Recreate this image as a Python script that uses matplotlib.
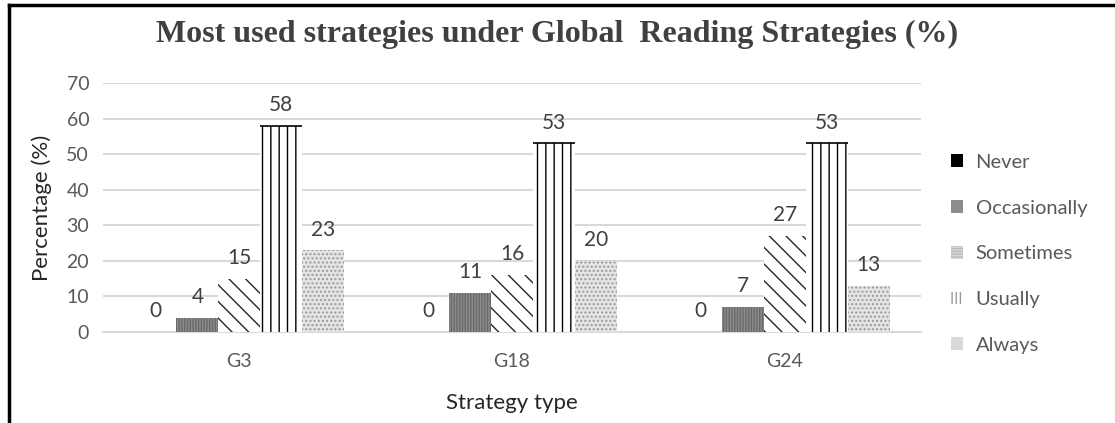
import matplotlib.pyplot as plt
import numpy as np
from matplotlib.patches import Patch
from matplotlib.lines import Line2D

# data
groups = ['G3', 'G18', 'G24']
series = ['Never', 'Occasionally', 'Sometimes', 'Usually', 'Always']
never = [0, 0, 0]
occasionally = [4, 11, 7]
sometimes = [15, 16, 27]
usually = [58, 53, 53]
always = [23, 20, 13]
values = [never, occasionally, sometimes, usually, always]

# fill styles per series (face, hatch colour, hatch)
styles = [
    ('#000000', '#000000', None),
    ('#8c8c8c', '#6a6a6a', '||||||'),
    ('#ffffff', '#262626', '\\\\'),
    ('#ffffff', '#000000', '||'),
    ('#e4e4e4', '#9a9a9a', '....'),
]

plt.rcParams['font.family'] = ['Lato', 'DejaVu Sans']
plt.rcParams['hatch.linewidth'] = 1.0
txt = '#595959'

fig = plt.figure(figsize=(11.15, 4.23), dpi=100)
ax = fig.add_axes([0.0924, 0.215, 0.7336, 0.589])

x = np.arange(len(groups))
w = 0.154
for i, (name, vals) in enumerate(zip(series, values)):
    face, hc, hatch = styles[i]
    pos = x + (i - 2) * w
    ax.bar(pos, vals, w, color=face, edgecolor=hc, hatch=hatch, linewidth=0,
           label=name, zorder=3)
    if name == 'Usually':
        ax.hlines(vals, pos - w / 2, pos + w / 2, color='black', lw=1.2, zorder=4)
    for p, v in zip(pos, vals):
        ax.text(p, v + 3, str(v), ha='center', va='bottom', fontsize=15,
                color='#404040', zorder=5)

ax.set_xlim(-0.5, 2.5)
ax.set_ylim(0, 70)
ax.set_yticks(range(0, 71, 10))
ax.set_xticks(x)
ax.set_xticklabels(groups)
ax.grid(axis='y', color='#d9d9d9', lw=1.5, zorder=0)
for s in ['top', 'right', 'left']:
    ax.spines[s].set_visible(False)
ax.spines['bottom'].set_color('#d9d9d9')
ax.spines['bottom'].set_linewidth(1.5)
ax.tick_params(length=0, labelsize=14, colors=txt, pad=10)
ax.tick_params(axis='x', pad=15)
ax.set_xlabel('Strategy type', fontsize=16, color='#262626', labelpad=17)
ax.set_ylabel('Percentage (%)', fontsize=16, color='#262626', labelpad=10)

fig.text(0.5, 0.918, 'Most used strategies under Global  Reading Strategies (%)',
         ha='center', va='center', fontsize=23, fontweight='bold',
         family='Liberation Serif', color='#404040')

handles = [
    Patch(facecolor='#000000', edgecolor='none'),
    Patch(facecolor='#8c8c8c', edgecolor='none'),
    Patch(facecolor='#d6d6d6', edgecolor='#bdbdbd', hatch='------', lw=0),
    Patch(facecolor='#ffffff', edgecolor='#9a9a9a', hatch='||||', lw=0),
    Patch(facecolor='#d9d9d9', edgecolor='none'),
]
leg = ax.legend(handles, series, loc='center left', bbox_to_anchor=(1.015, 0.314),
                frameon=False, fontsize=14.5, handlelength=0.6, handleheight=0.6,
                handletextpad=0.6, labelspacing=1.43)
for t in leg.get_texts():
    t.set_color(txt)

# black frame on the left and top of the picture
fig.add_artist(Line2D([0.008, 0.008], [0, 0.988], color='black', lw=2.5,
                      transform=fig.transFigure))
fig.add_artist(Line2D([0.008, 1], [0.988, 0.988], color='black', lw=2.5,
                      transform=fig.transFigure))

fig.savefig('out.png', dpi=100)
